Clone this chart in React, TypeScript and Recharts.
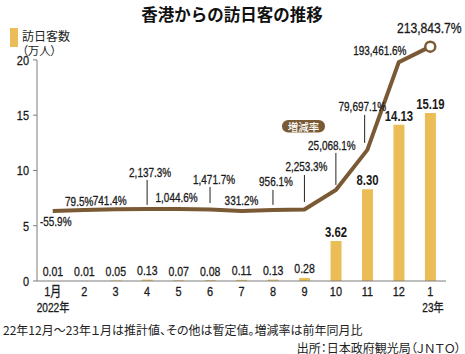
import React from 'react';
import { ComposedChart, Bar, Line, XAxis, YAxis, LabelList } from 'recharts';

const FONT = "'Liberation Sans', Arial, 'Noto Sans CJK JP', sans-serif";
const JP = "'Noto Sans CJK JP', sans-serif";
const BAR = '#ebbd57';
const BROWN = '#7a5a34';
const AXIS = '#7d7d7d';
const NARROW = 0.81; // the reference uses a condensed face

const months = ['1月', '2', '3', '4', '5', '6', '7', '8', '9', '10', '11', '12', '1'];
// 訪日客数 (万人)
const visitors = [0.01, 0.01, 0.05, 0.13, 0.07, 0.08, 0.11, 0.13, 0.28, 3.62, 8.3, 14.13, 15.19];
// 増減率 labels
const rateLabels = [
  '-55.9%', '79.5%', '741.4%', '2,137.3%', '1,044.6%', '1,471.7%', '331.2%',
  '956.1%', '2,253.3%', '25,068.1%', '79,697.1%', '193,461.6%', '213,843.7%',
];
// line height as drawn on the chart (the rate line is not to scale)
const rateLine = [6.33, 6.43, 6.49, 6.52, 6.52, 6.47, 6.33, 6.43, 6.47, 8.24, 11.86, 19.8, 21.2];
const yTicks = [0, 5, 10, 15, 20];

const data = months.map((m, i) => ({ month: m, visitors: visitors[i], rate: rateLine[i] }));

// label offsets from each line point (px), plus optional leader line
const rateLayout: { dx: number; dy: number; lead?: [number, number]; ldx?: number; size?: number }[] = [
  { dx: 3, dy: 11 },
  { dx: -5, dy: -8 },
  { dx: -6, dy: -8.3 },
  { dx: 3, dy: -36, lead: [-29, -4] },
  { dx: -2, dy: -11 },
  { dx: 4, dy: -29.5, lead: [-22.5, -6.5] },
  { dx: 0, dy: -10 },
  { dx: 3, dy: -28, lead: [-20, -5] },
  { dx: 2, dy: -42.5, lead: [-34.5, -7.5] },
  { dx: -4, dy: -44, lead: [-37, -5] },
  { dx: -5, dy: -43, lead: [-35, -7], ldx: -2.7 },
  { dx: -19, dy: -12 },
  { dx: -1, dy: -19, size: 15 },
];

type NProps = { x: number; y: number; size: number; anchor?: 'start' | 'middle' | 'end'; bold?: boolean; children: React.ReactNode };

// condensed text: squeeze horizontally round its anchor point
const NText = ({ x, y, size, anchor = 'middle', bold, children }: NProps) => (
  <text transform={`translate(${x} ${y}) scale(${NARROW} 1)`} textAnchor={anchor} dominantBaseline="central"
    fontSize={size} fontWeight={bold ? 'bold' : 'normal'} fill="#1a1a1a" stroke="#1a1a1a" strokeWidth={bold ? 0 : 0.3}
    fontFamily={FONT}>
    {children}
  </text>
);

const RateLabel = (p: any) => {
  const i = p.index;
  const l = rateLayout[i];
  const x = Number(p.x);
  const y = Number(p.y);
  return (
    <g>
      {l.lead && (
        <line x1={x + (l.ldx || 0)} x2={x + (l.ldx || 0)} y1={y + l.lead[0]} y2={y + l.lead[1]} stroke="#222" strokeWidth={1} />
      )}
      <NText x={x + l.dx} y={y + l.dy} size={l.size || 12.3}>{rateLabels[i]}</NText>
    </g>
  );
};

const BarLabel = (p: any) => {
  const v = Number(p.value);
  const big = v >= 1;
  return (
    <NText x={Number(p.x) + Number(p.width) / 2} y={Number(p.y) - 9} size={big ? 14 : 13} bold={big}>
      {v.toFixed(2)}
    </NText>
  );
};

const MonthTick = (p: any) => <NText x={p.x} y={p.y + 11} size={13.5}>{p.payload.value}</NText>;

const ValueTick = (p: any) => <NText x={p.x} y={p.y + 0.5} size={13.5} anchor="end">{p.payload.value}</NText>;

const EndDot = (p: any) => {
  if (p.index !== months.length - 1) return <g key={p.index} />;
  return <circle key={p.index} cx={p.cx} cy={p.cy} r={5} fill="#fff" stroke={BROWN} strokeWidth={2.5} />;
};

export default function App() {
  return (
    <div style={{ position: 'absolute', left: 0, top: 0, width: 465, height: 354, background: '#fff' }}>
      <ComposedChart width={465} height={354} data={data} margin={{ top: 40, right: 19, bottom: 43, left: 0 }} barCategoryGap="33%">
        <XAxis dataKey="month" height={30} tickLine={false} tickSize={0} tickMargin={0} axisLine={{ stroke: AXIS }} tick={<MonthTick />} interval={0} />
        <YAxis
          domain={[0, 21.8]}
          ticks={yTicks}
          width={37}
          tickSize={4}
          tickMargin={4}
          axisLine={{ stroke: AXIS, strokeDasharray: '0 20 400' }}
          tickLine={{ stroke: AXIS }}
          tick={<ValueTick />}
        />
        <Bar dataKey="visitors" fill={BAR} isAnimationActive={false}>
          <LabelList dataKey="visitors" content={<BarLabel />} />
        </Bar>
        <Line dataKey="rate" type="linear" stroke={BROWN} strokeWidth={4} dot={EndDot} activeDot={false} isAnimationActive={false}>
          <LabelList dataKey="rate" content={<RateLabel />} />
        </Line>
      </ComposedChart>
      <svg width={465} height={354} style={{ position: 'absolute', left: 0, top: 0, pointerEvents: 'none' }}>
        <text x={232} y={13.5} textAnchor="middle" dominantBaseline="central" fontSize={16.5} fontWeight="bold" fill="#111" fontFamily={JP}>
          香港からの訪日客の推移
        </text>
        <rect x={10} y={28} width={8} height={19} fill={BAR} />
        <text x={22} y={35.5} dominantBaseline="central" fontSize={12} fill="#222" fontFamily={JP}>訪日客数</text>
        <text x={22} y={50} dominantBaseline="central" fontSize={11.5} fill="#222" fontFamily={JP} style={{ fontFeatureSettings: '"palt"' }}>（万人）</text>
        <NText x={53} y={308} size={12.5}>2022年</NText>
        <NText x={433} y={308} size={12.5}>23年</NText>
        <rect x={282} y={120} width={43} height={12.5} rx={6.25} fill={BROWN} />
        <text x={303.5} y={126.3} textAnchor="middle" dominantBaseline="central" fontSize={10.5} fontWeight={500} fill="#fff" fontFamily={JP}>増減率</text>
        <text x={3} y={329} dominantBaseline="central" fontSize={12} fill="#222" fontFamily={JP} style={{ fontFeatureSettings: '"palt"' }}>
          22年12月～23年１月は推計値、その他は暫定値。増減率は前年同月比
        </text>
        <text x={461} y={347} textAnchor="end" dominantBaseline="central" fontSize={12} fill="#222" fontFamily={JP} style={{ fontFeatureSettings: '"palt"' }}>
          出所：日本政府観光局（ＪＮＴＯ）
        </text>
      </svg>
    </div>
  );
}
